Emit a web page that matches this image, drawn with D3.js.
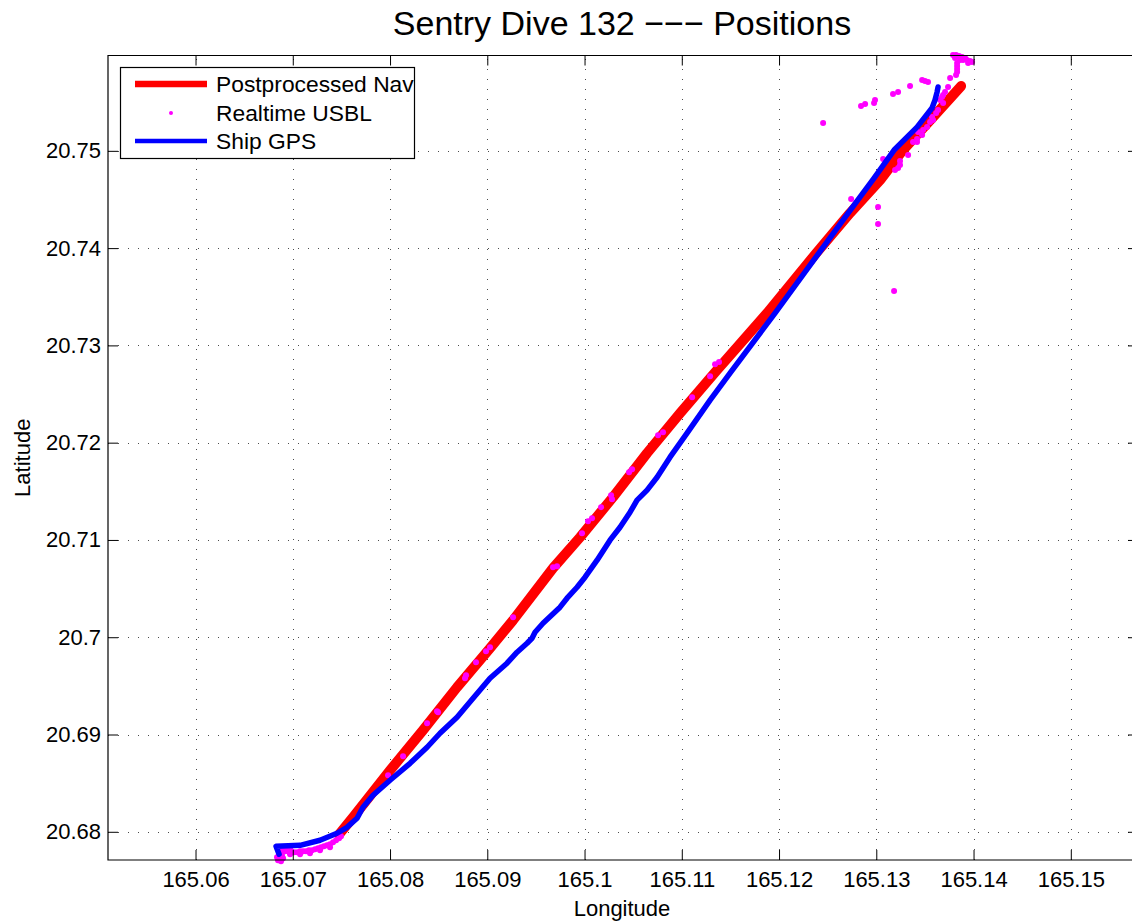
<!DOCTYPE html>
<html>
<head>
<meta charset="utf-8">
<script src="https://cdn.jsdelivr.net/npm/d3@7"></script>
<style>
  html, body { margin: 0; padding: 0; background: #fff; overflow: hidden; }
  svg { display: block; overflow: hidden; font-family: "Liberation Sans", Arial, Helvetica, sans-serif; }
</style>
</head>
<body>
<svg id="chart" width="1132" height="924"></svg>
<script>
// Axis extents (degrees)
const lonExtent = [165.051, 165.15691];
const latExtent = [20.6771, 20.7598];

const lonTicks = [165.06, 165.07, 165.08, 165.09, 165.10, 165.11, 165.12, 165.13, 165.14, 165.15];
const lonTickLabels = ["165.06", "165.07", "165.08", "165.09", "165.1", "165.11", "165.12", "165.13", "165.14", "165.15"];
const latTicks = [20.68, 20.69, 20.70, 20.71, 20.72, 20.73, 20.74, 20.75];
const latTickLabels = ["20.68", "20.69", "20.7", "20.71", "20.72", "20.73", "20.74", "20.75"];

// Postprocessed vehicle navigation track
const navLon = [165.07476, 165.07620, 165.08000, 165.08339, 165.08689, 165.09028, 165.09265, 165.09676,
  165.09954, 165.10293, 165.10643, 165.10982, 165.11363, 165.11877, 165.12391, 165.12730, 165.13039,
  165.13275, 165.13584, 165.13872];
const navLat = [20.67974, 20.68149, 20.68632, 20.69044, 20.69486, 20.69887, 20.70175, 20.70710,
  20.71028, 20.71440, 20.71892, 20.72303, 20.72746, 20.73332, 20.73959, 20.74360, 20.74699,
  20.75008, 20.75347, 20.75666];

// Ship GPS track
const gpsLon = [165.06859, 165.06828, 165.07075, 165.07280, 165.07455, 165.07558, 165.07661, 165.07722,
  165.07825, 165.08000, 165.08206, 165.08381, 165.08514, 165.08689, 165.08854, 165.09028, 165.09203,
  165.09306, 165.09409, 165.09460, 165.09491, 165.09573, 165.09748, 165.09820, 165.09923, 165.10005,
  165.10129, 165.10262, 165.10365, 165.10468, 165.10540, 165.10643, 165.10746, 165.10879, 165.11054,
  165.11291, 165.11496, 165.11959, 165.12432, 165.12710, 165.12977, 165.13183, 165.13419, 165.13573,
  165.13604, 165.13625, 165.13635];
const gpsLat = [20.67769, 20.67851, 20.67861, 20.67913, 20.67985, 20.68046, 20.68139, 20.68252,
  20.68375, 20.68530, 20.68704, 20.68869, 20.69013, 20.69177, 20.69373, 20.69578, 20.69733,
  20.69846, 20.69938, 20.69990, 20.70051, 20.70144, 20.70309, 20.70401, 20.70514, 20.70617,
  20.70792, 20.70998, 20.71131, 20.71285, 20.71409, 20.71512, 20.71645, 20.71851, 20.72098,
  20.72437, 20.72715, 20.73332, 20.73980, 20.74360, 20.74720, 20.75008, 20.75244, 20.75440,
  20.75522, 20.75604, 20.75656];

// Realtime USBL fixes
const usblLon = [
  165.06838, 165.06848, 165.06879, 165.06900, 165.06859, 165.06889, 165.06889, 165.06920, 165.06931,
  165.06951, 165.06972, 165.06982, 165.07013, 165.07044, 165.07075, 165.07105, 165.07136, 165.07167,
  165.07198, 165.07229, 165.07260, 165.07291, 165.07321, 165.07352, 165.07383, 165.07414, 165.07445,
  165.07476, 165.07496, 165.06972, 165.07075, 165.07177, 165.07280, 165.07383,
  165.07980, 165.08134, 165.08381, 165.08483, 165.08494, 165.08771, 165.08782, 165.08884, 165.08987,
  165.09028, 165.09265, 165.09676, 165.09717, 165.09974, 165.10036, 165.10077, 165.10170, 165.10273,
  165.10283, 165.10458, 165.10489, 165.10756, 165.10807, 165.11106, 165.11291, 165.11342, 165.11383,
  165.12741, 165.13018, 165.13018, 165.13183, 165.12453, 165.13070, 165.13193, 165.13224, 165.13244,
  165.13244, 165.13327, 165.13419, 165.13378, 165.13419, 165.13471, 165.13429, 165.13481, 165.13522,
  165.13553, 165.13573, 165.13584, 165.13635, 165.13656, 165.13676, 165.13687, 165.13687, 165.13707,
  165.13738, 165.13759, 165.13615, 165.13471, 165.13501, 165.13532, 165.13347, 165.13224, 165.13172,
  165.12987, 165.12977, 165.12885, 165.12843,
  165.13789, 165.13820, 165.13851, 165.13882, 165.13913, 165.13933, 165.13944, 165.13831, 165.13831,
  165.13831, 165.13831, 165.13820, 165.13861, 165.13810, 165.13892, 165.13964, 165.13985];
const usblLat = [
  20.67738, 20.67707, 20.67697, 20.67727, 20.67779, 20.67758, 20.67810, 20.67799, 20.67830,
  20.67799, 20.67830, 20.67799, 20.67789, 20.67789, 20.67799, 20.67799, 20.67799, 20.67810,
  20.67810, 20.67820, 20.67830, 20.67841, 20.67851, 20.67861, 20.67871, 20.67892, 20.67913,
  20.67933, 20.67954, 20.67769, 20.67769, 20.67779, 20.67810, 20.67841,
  20.68581, 20.68776, 20.69116, 20.69239, 20.69229, 20.69578, 20.69609, 20.69743, 20.69856,
  20.69897, 20.70206, 20.70720, 20.70730, 20.71070, 20.71193, 20.71224, 20.71337, 20.71460,
  20.71419, 20.71697, 20.71728, 20.72077, 20.72108, 20.72468, 20.72684, 20.72807, 20.72828,
  20.74504, 20.74422, 20.74247, 20.73558, 20.75286, 20.74915, 20.74802, 20.74823, 20.74895,
  20.74854, 20.74957, 20.75090, 20.75090, 20.75121, 20.75162, 20.75193, 20.75214, 20.75244,
  20.75296, 20.75347, 20.75316, 20.75419, 20.75522, 20.75553, 20.75573, 20.75491, 20.75604,
  20.75656, 20.75748, 20.75388, 20.75728, 20.75717, 20.75707, 20.75666, 20.75604, 20.75584,
  20.75522, 20.75491, 20.75481, 20.75460,
  20.75985, 20.75985, 20.75975, 20.75964, 20.75954, 20.75933, 20.75903, 20.75903, 20.75872,
  20.75841, 20.75810, 20.75779, 20.75933, 20.75954, 20.75933, 20.75923, 20.75913];

const seriesNames = ["Postprocessed Nav", "Realtime USBL", "Ship GPS"];

// the axes box runs a little past the right edge of the page
const plot = { left: 108, right: 1138, top: 55.5, bottom: 860 };
const centreX = 622;

const svg = d3.select("#chart");
const x = d3.scaleLinear().domain(lonExtent).range([plot.left, plot.right]);
const y = d3.scaleLinear().domain(latExtent).range([plot.bottom, plot.top]);

// dotted grid
const grid = svg.append("g").attr("stroke", "#000").attr("stroke-width", 1)
  .attr("stroke-dasharray", "1,9").attr("stroke-opacity", 0.7);
grid.selectAll("line.v").data(lonTicks).join("line")
  .attr("x1", d => Math.round(x(d)) + 0.5).attr("x2", d => Math.round(x(d)) + 0.5)
  .attr("y1", plot.bottom).attr("y2", plot.top);
grid.selectAll("line.h").data(latTicks).join("line")
  .attr("y1", d => Math.round(y(d)) + 0.5).attr("y2", d => Math.round(y(d)) + 0.5)
  .attr("x1", plot.left).attr("x2", plot.right);

// tracks
const line = d3.line().x(d => x(d[0])).y(d => y(d[1]));
const navPts = navLon.map((v, i) => [v, navLat[i]]);
const gpsPts = gpsLon.map((v, i) => [v, gpsLat[i]]);
const usblPts = usblLon.map((v, i) => [v, usblLat[i]]);

svg.append("path").datum(navPts).attr("d", line)
  .attr("fill", "none").attr("stroke", "#ff0000").attr("stroke-width", 10)
  .attr("stroke-linecap", "round").attr("stroke-linejoin", "round");

svg.append("g").selectAll("circle").data(usblPts).join("circle")
  .attr("cx", d => x(d[0])).attr("cy", d => y(d[1])).attr("r", 3)
  .attr("fill", "#ff00ff");

svg.append("path").datum(gpsPts).attr("d", line)
  .attr("fill", "none").attr("stroke", "#0000ff").attr("stroke-width", 5.5)
  .attr("stroke-linecap", "round").attr("stroke-linejoin", "round");

// axes with inward ticks
const fontSize = 22;
const axB = svg.append("g").attr("transform", `translate(0,${plot.bottom})`)
  .call(d3.axisBottom(x).tickValues(lonTicks).tickFormat((d, i) => lonTickLabels[i])
    .tickSizeInner(-10).tickSizeOuter(0).tickPadding(11));
const axT = svg.append("g").attr("transform", `translate(0,${plot.top})`)
  .call(d3.axisTop(x).tickValues(lonTicks).tickFormat("").tickSizeInner(-10).tickSizeOuter(0));
const axL = svg.append("g").attr("transform", `translate(${plot.left},0)`)
  .call(d3.axisLeft(y).tickValues(latTicks).tickFormat((d, i) => latTickLabels[i])
    .tickSizeInner(-10).tickSizeOuter(0).tickPadding(7));
const axR = svg.append("g").attr("transform", `translate(${plot.right},0)`)
  .call(d3.axisRight(y).tickValues(latTicks).tickFormat("").tickSizeInner(-10).tickSizeOuter(0));
[axB, axT, axL, axR].forEach(g => {
  g.select(".domain").remove();
  g.selectAll(".tick line").attr("stroke", "#000").attr("stroke-width", 1);
  g.selectAll(".tick text").attr("fill", "#000").attr("font-size", fontSize)
    .attr("font-family", "'Liberation Sans', Arial, sans-serif");
});

// axes frame: left, top and bottom edges (the right edge lies off the page)
svg.append("path")
  .attr("d", `M${plot.right},${plot.top}H${plot.left}V${plot.bottom}H${plot.right}`)
  .attr("fill", "none").attr("stroke", "#000").attr("stroke-width", 1.2);

// title and axis labels
svg.append("text").attr("x", centreX).attr("y", 35)
  .attr("text-anchor", "middle").attr("font-size", 34).text("Sentry Dive 132 \u2212\u2212\u2212 Positions");
svg.append("text").attr("x", centreX).attr("y", 916)
  .attr("text-anchor", "middle").attr("font-size", fontSize).text("Longitude");
svg.append("text").attr("transform", `translate(30,${(plot.top + plot.bottom) / 2}) rotate(-90)`)
  .attr("text-anchor", "middle").attr("font-size", fontSize).text("Latitude");

// legend
const lg = svg.append("g");
lg.append("rect").attr("x", 120.5).attr("y", 67.5).attr("width", 294).attr("height", 91)
  .attr("fill", "#fff").attr("stroke", "#000").attr("stroke-width", 1.2);
const rowY = [84, 113, 141];
lg.append("line").attr("x1", 135).attr("x2", 207).attr("y1", rowY[0]).attr("y2", rowY[0])
  .attr("stroke", "#ff0000").attr("stroke-width", 6.5);
lg.append("circle").attr("cx", 171).attr("cy", rowY[1]).attr("r", 2).attr("fill", "#ff00ff");
lg.append("line").attr("x1", 135).attr("x2", 207).attr("y1", rowY[2]).attr("y2", rowY[2])
  .attr("stroke", "#0000ff").attr("stroke-width", 4.5);
lg.selectAll("text").data(seriesNames).join("text")
  .attr("x", 216).attr("y", (d, i) => rowY[i]).attr("dy", "0.36em")
  .attr("font-size", 22.8).text(d => d);
</script>
</body>
</html>
